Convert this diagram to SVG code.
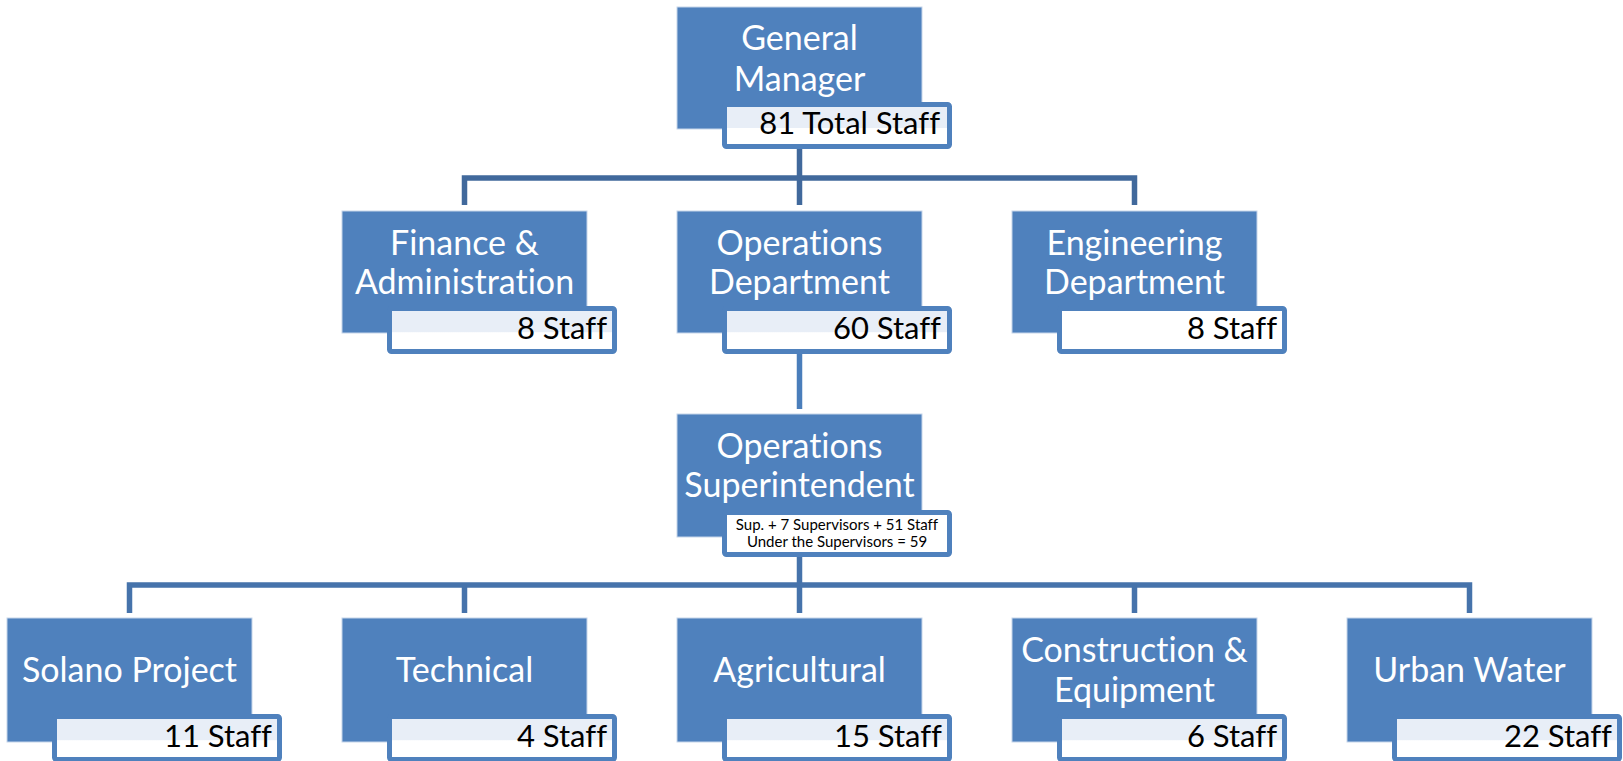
<svg xmlns="http://www.w3.org/2000/svg" width="1623" height="761" viewBox="0 0 1623 761">
<defs>
<linearGradient id="sg" x1="0" y1="0" x2="0" y2="1">
<stop offset="0" stop-color="#E8EEF7"/>
<stop offset="0.55" stop-color="#E8EEF7"/>
<stop offset="0.56" stop-color="#FFFFFF"/>
<stop offset="1" stop-color="#FFFFFF"/>
</linearGradient>
</defs>
<style>
text{font-variant-ligatures:none;font-feature-settings:"liga" 0,"clig" 0}
.box{fill:#4F81BD;stroke:#C6D5EA;stroke-width:1}
.sub{fill:url(#sg);stroke:#4F81BD;stroke-width:5}
.subw{fill:#FFFFFF;stroke:#4F81BD;stroke-width:5}
.t{font-family:Lato,"Liberation Sans",sans-serif;font-size:34px;fill:#FFFFFF;text-anchor:middle}
.s{font-family:Lato,"Liberation Sans",sans-serif;font-size:31px;fill:#000000;text-anchor:end}
.ss{font-family:Lato,"Liberation Sans",sans-serif;font-size:15px;fill:#000000;text-anchor:middle}
.c1{fill:none;stroke:#41699C;stroke-width:5.5}
.c2{fill:none;stroke:#4A7EBB;stroke-width:5.5}
.c3{fill:none;stroke:#4673AB;stroke-width:5.5}
</style>
<rect width="1623" height="761" fill="#FFFFFF"/>
<g id="connectors">
<path class="c1" d="M799.5 148 V205 M464.5 205 V178 H1134.5 V205"/>
<path class="c2" d="M799.5 354 V409"/>
<path class="c3" d="M799.5 557 V613 M129.5 613 V585 H1469.5 V613 M464.5 585 V613 M1134.5 585 V613"/>
</g>
<g id="general-manager">
<rect class="box" x="677" y="7" width="245" height="122"/>
<text class="t" x="799.5" y="50">General</text>
<text class="t" x="799.5" y="91">Manager</text>
<rect class="sub" x="724.5" y="104.5" width="225" height="42" rx="2"/>
<text class="s" x="940" y="134">81 Total Staff</text>
</g>
<g id="finance">
<rect class="box" x="342" y="211" width="245" height="122"/>
<text class="t" x="464.5" y="255">Finance &amp;</text>
<text class="t" x="464.5" y="294">Administration</text>
<rect class="sub" x="389.5" y="308.5" width="225" height="43" rx="2"/>
<text class="s" x="607" y="339">8 Staff</text>
</g>
<g id="operations-department">
<rect class="box" x="677" y="211" width="245" height="122"/>
<text class="t" x="799.5" y="255">Operations</text>
<text class="t" x="799.5" y="294">Department</text>
<rect class="sub" x="724.5" y="308.5" width="225" height="43" rx="2"/>
<text class="s" x="941" y="339">60 Staff</text>
</g>
<g id="engineering">
<rect class="box" x="1012" y="211" width="245" height="122"/>
<text class="t" x="1134.5" y="255">Engineering</text>
<text class="t" x="1134.5" y="294">Department</text>
<rect class="subw" x="1059.5" y="308.5" width="225" height="43" rx="2"/>
<text class="s" x="1277" y="339">8 Staff</text>
</g>
<g id="operations-superintendent">
<rect class="box" x="677" y="414" width="245" height="123"/>
<text class="t" x="799.5" y="458">Operations</text>
<text class="t" x="799.5" y="497">Superintendent</text>
<rect class="subw" x="724.5" y="512.5" width="225" height="42" rx="2"/>
<text class="ss" x="837" y="530">Sup. + 7 Supervisors + 51 Staff</text>
<text class="ss" x="837" y="547">Under the Supervisors = 59</text>
</g>
<g id="solano-project">
<rect class="box" x="7" y="618" width="245" height="124"/>
<text class="t" x="129.5" y="682">Solano Project</text>
<rect class="sub" x="54.5" y="716.5" width="225" height="43" rx="2"/>
<text class="s" x="272" y="747">11 Staff</text>
</g>
<g id="technical">
<rect class="box" x="342" y="618" width="245" height="124"/>
<text class="t" x="464.5" y="682">Technical</text>
<rect class="sub" x="389.5" y="716.5" width="225" height="43" rx="2"/>
<text class="s" x="607" y="747">4 Staff</text>
</g>
<g id="agricultural">
<rect class="box" x="677" y="618" width="245" height="124"/>
<text class="t" x="799.5" y="682">Agricultural</text>
<rect class="sub" x="724.5" y="716.5" width="225" height="43" rx="2"/>
<text class="s" x="942" y="747">15 Staff</text>
</g>
<g id="construction-equipment">
<rect class="box" x="1012" y="618" width="245" height="124"/>
<text class="t" x="1134.5" y="662">Construction &amp;</text>
<text class="t" x="1134.5" y="702">Equipment</text>
<rect class="sub" x="1059.5" y="716.5" width="225" height="43" rx="2"/>
<text class="s" x="1277" y="747">6 Staff</text>
</g>
<g id="urban-water">
<rect class="box" x="1347" y="618" width="245" height="124"/>
<text class="t" x="1469.5" y="682">Urban Water</text>
<rect class="sub" x="1394.5" y="716.5" width="225" height="43" rx="2"/>
<text class="s" x="1612" y="747">22 Staff</text>
</g>
</svg>
